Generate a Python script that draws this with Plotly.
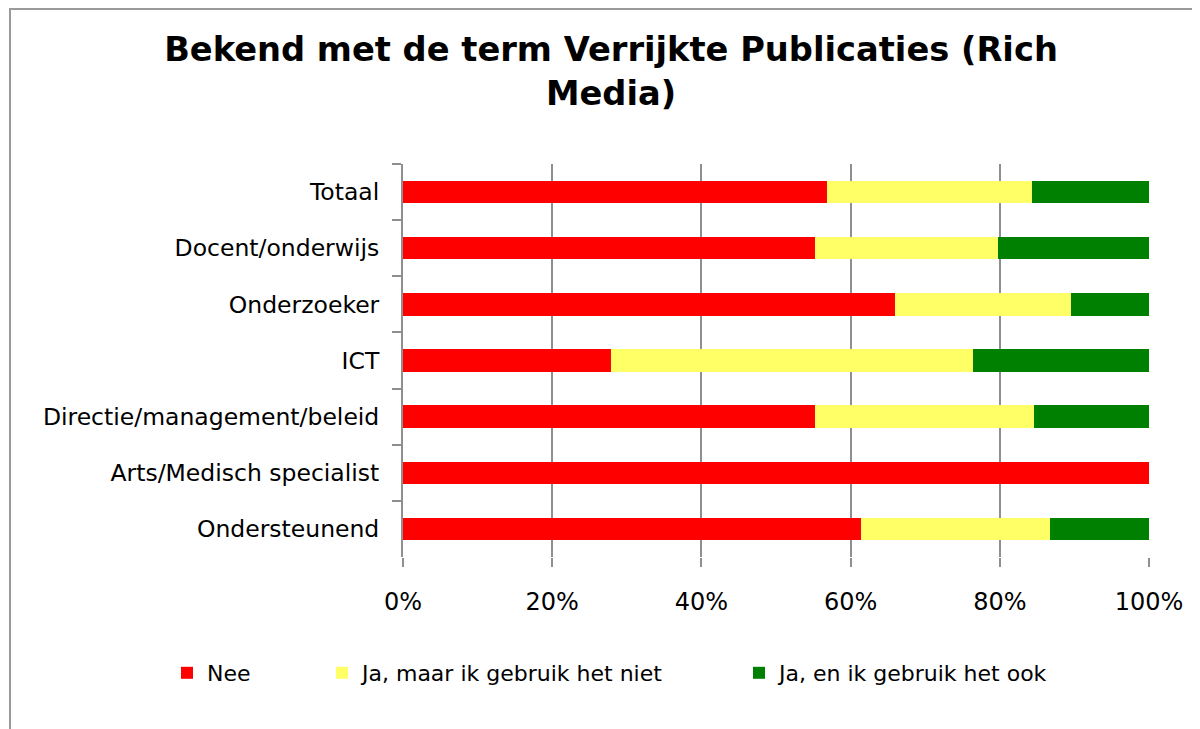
import plotly.graph_objects as go

categories = ["Totaal", "Docent/onderwijs", "Onderzoeker", "ICT",
              "Directie/management/beleid", "Arts/Medisch specialist", "Ondersteunend"]
nee = [0.568, 0.552, 0.660, 0.279, 0.552, 1.000, 0.614]
ja_niet = [0.275, 0.246, 0.235, 0.485, 0.294, 0.000, 0.253]
ja_ook = [0.157, 0.202, 0.105, 0.236, 0.154, 0.000, 0.133]
series_names = ["Nee", "Ja, maar ik gebruik het niet", "Ja, en ik gebruik het ook"]
colors = ["#FF0000", "#FFFF66", "#008000"]
x_ticks = [0, 0.2, 0.4, 0.6, 0.8, 1.0]

FONT = "DejaVu Sans"
fig = go.Figure()
legend_ids = ["legend", "legend2", "legend3"]
for vals, name, col, lg in zip([nee, ja_niet, ja_ook], series_names, colors, legend_ids):
    fig.add_trace(go.Bar(
        y=categories, x=vals, name=name, orientation="h",
        marker=dict(color=col, line=dict(width=0)), width=0.4,
        legend=lg, showlegend=True,
    ))

OFF = 8  # browser body margin
W, H = 1200 - OFF, 729 - OFF
# plot area in screenshot pixels
L, R, T, B = 403, 1149, 164, 557
pw, ph = R - L, B - T

def px_x(p):
    return (p - L) / pw

def px_y(p):
    return (B - p) / ph

leg_common = dict(orientation="h", yanchor="middle", xanchor="left",
                  font=dict(family=FONT, size=22, color="#000000"),
                  bgcolor="rgba(0,0,0,0)", borderwidth=0)
ly = px_y(673)
fig.update_layout(
    width=W, height=H,
    margin=dict(l=L - OFF, r=W - (R - OFF), t=T - OFF, b=H - (B - OFF), pad=0),
    paper_bgcolor="white", plot_bgcolor="white",
    barmode="stack",
    showlegend=True,
    title=dict(text="<b>Bekend met de term Verrijkte Publicaties (Rich<br>Media)</b>",
               x=(611 - OFF) / W, xanchor="center", y=1 - 53 / H, yanchor="top",
               font=dict(family=FONT, size=33.7, color="#000000")),
    legend=dict(x=px_x(190 - 23), y=ly, **leg_common),
    legend2=dict(x=px_x(345 - 23), y=ly, **leg_common),
    legend3=dict(x=px_x(762 - 23), y=ly, **leg_common),
    font=dict(family=FONT, color="#000000"),
    xaxis=dict(range=[0, 1], tickvals=x_ticks, tickformat=".0%",
               showgrid=True, gridcolor="#8f8f8f", gridwidth=2,
               ticks="outside", ticklen=9, tickwidth=2, tickcolor="#8f8f8f",
               showline=False, zeroline=False,
               tickfont=dict(family=FONT, size=24, color="#000000"),
               ticklabelstandoff=14),
    yaxis=dict(categoryorder="array", categoryarray=categories, autorange="reversed",
               tickson="boundaries", ticks="outside", ticklen=9, tickwidth=2,
               tickcolor="#8f8f8f", showline=True, linecolor="#8f8f8f", linewidth=2,
               showgrid=False, zeroline=False,
               tickfont=dict(family=FONT, size=23.5, color="#000000"),
               ticklabelstandoff=17),
    shapes=[dict(type="rect", xref="paper", yref="paper",
                 x0=px_x(10), x1=px_x(1215), y0=px_y(740), y1=px_y(9),
                 line=dict(color="#9a9a9a", width=2), fillcolor="rgba(0,0,0,0)",
                 layer="below")],
)
fig.write_html("out.html")
